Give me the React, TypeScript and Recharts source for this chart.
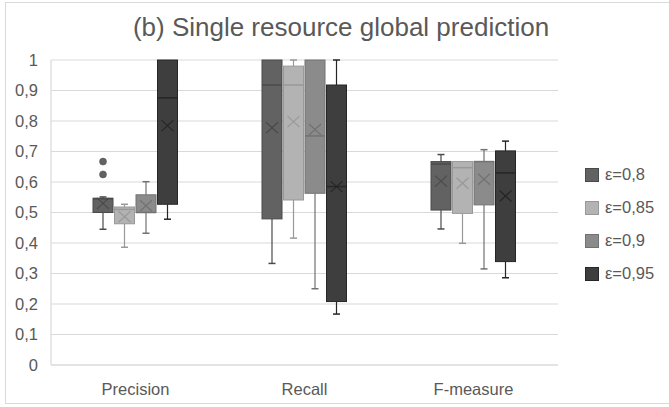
import React from "react";
import { ComposedChart, Bar, XAxis, YAxis, CartesianGrid } from "recharts";

// ---- data ----
const categories = ["Precision", "Recall", "F-measure"];
const seriesNames = ["ε=0,8", "ε=0,85", "ε=0,9", "ε=0,95"];
const seriesFill = ["#626262", "#b3b3b3", "#8b8b8b", "#3e3e3e"];
const seriesStroke = ["#4a4a4a", "#999999", "#727272", "#262626"];

// each entry: [whiskerLow, q1, median, q3, whiskerHigh, mean] per category
const eps080 = [
  [0.445, 0.5, 0.545, 0.547, 0.551, 0.53],
  [0.333, 0.479, 0.918, 1.0, 1.0, 0.778],
  [0.446, 0.508, 0.659, 0.667, 0.69, 0.603],
];
const eps085 = [
  [0.386, 0.463, 0.51, 0.518, 0.527, 0.486],
  [0.416, 0.541, 0.918, 0.98, 1.0, 0.798],
  [0.399, 0.497, 0.647, 0.667, 0.667, 0.596],
];
const eps090 = [
  [0.432, 0.5, 0.5, 0.558, 0.601, 0.522],
  [0.25, 0.563, 0.751, 1.0, 1.0, 0.772],
  [0.315, 0.525, 0.667, 0.667, 0.706, 0.609],
];
const eps095 = [
  [0.478, 0.527, 0.876, 1.0, 1.0, 0.785],
  [0.167, 0.208, 0.585, 0.918, 1.0, 0.585],
  [0.286, 0.339, 0.63, 0.702, 0.734, 0.554],
];
// outliers per series per category
const outliers080 = [[0.625, 0.667], [], []];
const outliers085 = [[], [], []];
const outliers090 = [[], [], []];
const outliers095 = [[], [], []];

const yTicks = [0, 0.1, 0.2, 0.3, 0.4, 0.5, 0.6, 0.7, 0.8, 0.9, 1];

const allSeries = [eps080, eps085, eps090, eps095];
const allOutliers = [outliers080, outliers085, outliers090, outliers095];

const data = categories.map((category, ci) => {
  const stats = allSeries.map((s, si) => {
    const [wl, q1, med, q3, wh, mean] = s[ci];
    const outs = allOutliers[si][ci];
    const lo = Math.min(wl, ...outs);
    const hi = Math.max(wh, ...outs);
    return { wl, q1, med, q3, wh, mean, outs, lo, hi };
  });
  return { category, stats };
});

const TEXT = "#595959";
const GRID = "#d9d9d9";
const FONT = "'Liberation Sans', Arial, Helvetica, sans-serif";

const makeShape = (si: number) => (props: any) => {
  const { x, y, width, height, payload } = props;
  const st = payload.stats[si];
  const top = Math.min(y, y + height);
  const bot = Math.max(y, y + height);
  const py = (v: number) => bot - ((v - st.lo) / (st.hi - st.lo)) * (bot - top);
  const stroke = seriesStroke[si];
  const fill = seriesFill[si];
  const cx = x + width / 2;
  const yq1 = py(st.q1);
  const yq3 = py(st.q3);
  const ym = py(st.med);
  const ymean = py(st.mean);
  const ywl = py(st.wl);
  const ywh = py(st.wh);
  const cap = 3.5;
  const mx = 6;
  const my = 5.5;
  return (
    <g>
      {st.wh > st.q3 && (
        <g>
          <line x1={cx} x2={cx} y1={ywh} y2={yq3} stroke={stroke} strokeWidth={1.2} />
          <line x1={cx - cap} x2={cx + cap} y1={ywh} y2={ywh} stroke={stroke} strokeWidth={1.5} />
        </g>
      )}
      {st.wl < st.q1 && (
        <g>
          <line x1={cx} x2={cx} y1={yq1} y2={ywl} stroke={stroke} strokeWidth={1.2} />
          <line x1={cx - cap} x2={cx + cap} y1={ywl} y2={ywl} stroke={stroke} strokeWidth={1.5} />
        </g>
      )}
      <rect x={x} y={yq3} width={width} height={yq1 - yq3} fill={fill} stroke={stroke} strokeWidth={1} />
      <line x1={x} x2={x + width} y1={ym} y2={ym} stroke={stroke} strokeWidth={1.5} />
      <line x1={cx - mx} x2={cx + mx} y1={ymean - my} y2={ymean + my} stroke={stroke} strokeWidth={1.2} />
      <line x1={cx - mx} x2={cx + mx} y1={ymean + my} y2={ymean - my} stroke={stroke} strokeWidth={1.2} />
      {st.outs.map((o: number, i: number) => (
        <circle key={i} cx={cx} cy={py(o)} r={3.5} fill={fill} stroke={stroke} strokeWidth={0.5} />
      ))}
    </g>
  );
};

const fmt = (v: number) => String(v).replace(".", ",");

export default function App() {
  return (
    <div
      style={{
        position: "absolute",
        left: 0,
        top: 0,
        width: 669,
        height: 407,
        background: "#fff",
        fontFamily: FONT,
        overflow: "hidden",
      }}
    >
      <div
        style={{
          position: "absolute",
          left: 5,
          top: 2,
          width: 670,
          height: 402,
          border: `1px solid ${GRID}`,
          boxSizing: "border-box",
        }}
      />
      <div
        style={{
          position: "absolute",
          left: 0,
          width: 682,
          top: 12,
          textAlign: "center",
          fontSize: 26,
          color: TEXT,
          lineHeight: "30px",
          whiteSpace: "nowrap",
        }}
      >
        (b) Single resource global prediction
      </div>
      <div style={{ position: "absolute", left: 0, top: 0 }}>
        <ComposedChart
          width={669}
          height={407}
          data={data}
          margin={{ top: 60, right: 111, bottom: 0, left: 0 }}
          barSize={20}
          barGap={1.5}
        >
          <CartesianGrid vertical={false} stroke={GRID} strokeWidth={1.2} />
          <XAxis
            dataKey="category"
            height={42}
            axisLine={{ stroke: GRID, strokeWidth: 1.2 }}
            tickLine={false}
            tickMargin={12}
            tick={{ fill: TEXT, fontSize: 16.5, fontFamily: FONT }}
          />
          <YAxis
            width={51}
            domain={[0, 1]}
            ticks={yTicks}
            tickFormatter={fmt}
            axisLine={{ stroke: GRID, strokeWidth: 1.2 }}
            tickLine={false}
            tickMargin={7}
            tick={{ fill: TEXT, fontSize: 16.5, fontFamily: FONT }}
          />
          {seriesNames.map((name, si) => (
            <Bar
              key={name}
              name={name}
              dataKey={(row: any) => [row.stats[si].lo, row.stats[si].hi]}
              fill={seriesFill[si]}
              shape={makeShape(si)}
              isAnimationActive={false}
            />
          ))}
        </ComposedChart>
      </div>
      <div style={{ position: "absolute", left: 585, top: 158 }}>
        {seriesNames.map((name, si) => (
          <div key={name} style={{ display: "flex", alignItems: "center", height: 33 }}>
            <div
              style={{
                width: 14,
                height: 14,
                background: seriesFill[si],
                border: `1px solid ${seriesStroke[si]}`,
                boxSizing: "border-box",
                marginRight: 6,
              }}
            />
            <span style={{ fontSize: 16.5, color: TEXT }}>{name}</span>
          </div>
        ))}
      </div>
    </div>
  );
}
